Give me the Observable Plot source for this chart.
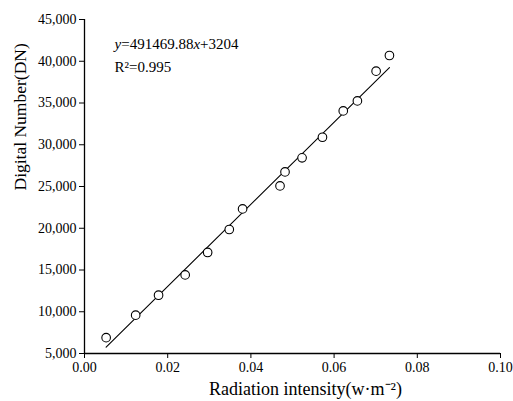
<!DOCTYPE html>
<html>
<head>
<meta charset="utf-8">
<script src="https://cdn.jsdelivr.net/npm/d3@7"></script>
<script src="https://cdn.jsdelivr.net/npm/@observablehq/plot@0.6"></script>
<style>
  html, body { margin: 0; padding: 0; background: #fff; }
  svg { font-family: "Liberation Serif", serif; }
</style>
</head>
<body>
<div id="chart"></div>
<script>
// Measured points: radiation intensity (w·m^-2) vs digital number (DN)
const radiation = [0.0052, 0.0123, 0.0178, 0.0242, 0.0296, 0.0348, 0.0380, 0.0470, 0.0482, 0.0523, 0.0572, 0.0622, 0.0656, 0.0701, 0.0733];
const dn = [6900, 9590, 11980, 14410, 17100, 19850, 22320, 25070, 26750, 28430, 30900, 34050, 35250, 38810, 40690];
// Fit line y = slope*x + intercept
const slope = 491469.88;
const intercept = 3204;
const equationText = "y=491469.88x+3204";
const r2Text = "R²=0.995";
const xLabel = "Radiation intensity(w·m⁻²)";
const yLabel = "Digital Number(DN)";
const xTicks = [0, 0.02, 0.04, 0.06, 0.08, 0.10];
const yTicks = [5000, 10000, 15000, 20000, 25000, 30000, 35000, 40000, 45000];

const points = radiation.map((x, i) => ({x, y: dn[i]}));
const xMin = d3.min(radiation), xMax = d3.max(radiation);
const fit = [xMin, xMax].map(x => ({x, y: slope * x + intercept}));

const chart = Plot.plot({
  width: 513,
  height: 401,
  marginLeft: 84,
  marginRight: 13,
  marginTop: 19,
  marginBottom: 48,
  style: {fontFamily: "'Liberation Serif', serif", fontSize: "14px", color: "#000", background: "#fff"},
  x: {domain: [0, 0.1]},
  y: {domain: [5000, 45000]},
  marks: [
    Plot.axisX({ticks: xTicks, tickFormat: d3.format(".2f"), tickSize: 5, tickPadding: 4, fontSize: 14, label: null}),
    Plot.axisY({ticks: yTicks, tickFormat: d3.format(","), tickSize: 5, tickPadding: 3, fontSize: 14, label: null}),
    Plot.ruleX([0], {stroke: "#000", strokeWidth: 1.3}),
    Plot.ruleY([5000], {stroke: "#000", strokeWidth: 1.3}),
    Plot.line(fit, {x: "x", y: "y", stroke: "#000", strokeWidth: 1.1}),
    Plot.dot(points, {x: "x", y: "y", r: 4.3, stroke: "#000", fill: "#fff", strokeWidth: 1.1}),
    Plot.text([equationText], {frameAnchor: "top-left", dx: 30, dy: 19, text: d => d, fontSize: 15, textAnchor: "start", className: "eq"}),
    Plot.text([r2Text], {frameAnchor: "top-left", dx: 30, dy: 42, text: d => d, fontSize: 15, textAnchor: "start"}),
    Plot.text([xLabel], {frameAnchor: "bottom", dx: 13, dy: 41, lineAnchor: "bottom", text: d => d, fontSize: 18}),
    Plot.text([yLabel], {frameAnchor: "left", dx: -71, dy: 4, rotate: -90, lineAnchor: "top", text: d => d, fontSize: 17.5})
  ]
});

// Italicise variables in equation
d3.select(chart).selectAll("g.eq text").each(function() {
  const t = d3.select(this);
  const s = t.text();
  t.text(null);
  const m = s.match(/^(y)(=[\d.]+)(x)(.*)$/);
  if (m) {
    t.append("tspan").attr("font-style", "italic").text(m[1]);
    t.append("tspan").text(m[2]);
    t.append("tspan").attr("font-style", "italic").text(m[3]);
    t.append("tspan").text(m[4]);
  } else t.text(s);
});
document.getElementById("chart").appendChild(chart);
</script>
</body>
</html>
